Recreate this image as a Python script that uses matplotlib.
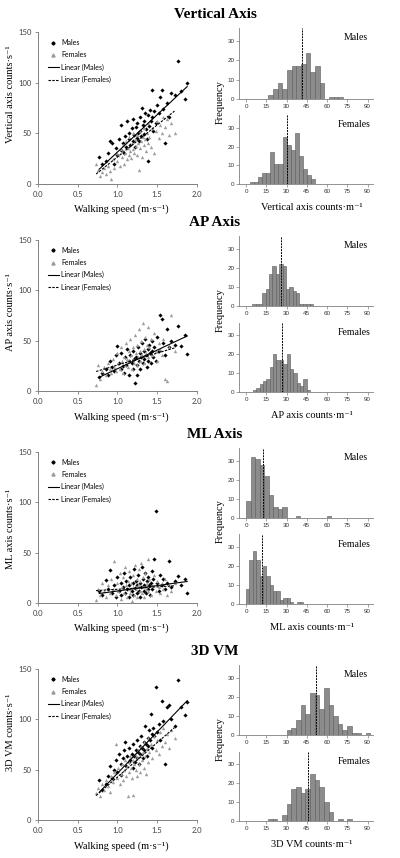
import matplotlib
matplotlib.use("Agg")
import matplotlib.pyplot as plt
from matplotlib.lines import Line2D

plt.rcParams['font.family'] = ['Liberation Serif', 'DejaVu Serif']

# walking speed (m/s) of each subject, the same subjects in all four panels
speed_m = [0.77, 0.80, 0.86, 0.88, 0.90, 0.93, 0.95, 0.98, 1.00, 1.02, 1.04, 1.05, 1.07, 1.08, 1.10, 1.11,
           1.12, 1.14, 1.15, 1.16, 1.18, 1.19, 1.20, 1.21, 1.22, 1.23, 1.24, 1.25, 1.26, 1.27, 1.28, 1.29,
           1.30, 1.31, 1.32, 1.33, 1.34, 1.35, 1.36, 1.37, 1.38, 1.39, 1.40, 1.41, 1.42, 1.43, 1.44, 1.45,
           1.46, 1.48, 1.50, 1.52, 1.54, 1.56, 1.58, 1.60, 1.62, 1.65, 1.68, 1.72, 1.77, 1.80, 1.85, 1.88]
speed_f = [0.73, 0.76, 0.78, 0.80, 0.83, 0.85, 0.88, 0.90, 0.92, 0.94, 0.96, 0.98, 1.00, 1.01, 1.03, 1.04,
           1.06, 1.07, 1.08, 1.10, 1.11, 1.12, 1.13, 1.14, 1.15, 1.16, 1.17, 1.18, 1.19, 1.20, 1.21, 1.22,
           1.23, 1.24, 1.25, 1.26, 1.27, 1.28, 1.29, 1.30, 1.31, 1.32, 1.33, 1.34, 1.35, 1.36, 1.37, 1.38,
           1.39, 1.40, 1.42, 1.44, 1.46, 1.48, 1.50, 1.52, 1.54, 1.56, 1.58, 1.60, 1.62, 1.65, 1.68, 1.72]

# counts per second
vert_m = [26, 20, 22, 30, 42, 40, 20, 35, 28, 44, 33, 58, 40, 30, 47, 36, 62, 44, 50, 38, 55, 42, 64, 48,
          36, 56, 45, 60, 50, 42, 66, 52, 47, 75, 58, 49, 62, 70, 54, 44, 22, 68, 57, 73, 62, 93, 66, 52,
          72, 60, 78, 70, 86, 93, 74, 40, 80, 66, 90, 88, 122, 92, 84, 100]
vert_f = [20, 14, 8, 12, 16, 10, 18, 13, 5, 24, 16, 30, 22, 28, 18, 34, 26, 38, 20, 30, 42, 24, 35, 28,
          46, 32, 25, 40, 34, 50, 30, 44, 37, 28, 48, 40, 14, 35, 52, 42, 26, 46, 38, 55, 44, 32, 50, 40,
          60, 46, 36, 55, 30, 52, 62, 45, 58, 50, 66, 56, 64, 48, 60, 50]
ap_m = [14, 18, 22, 16, 30, 24, 20, 36, 45, 28, 22, 38, 25, 18, 34, 26, 42, 30, 16, 36, 28, 22, 40, 32,
        8, 34, 26, 16, 44, 30, 38, 22, 34, 48, 28, 40, 32, 52, 36, 24, 42, 30, 46, 38, 28, 50, 40, 34,
        44, 30, 54, 40, 76, 72, 48, 36, 62, 44, 50, 46, 65, 45, 56, 37]
ap_f = [6, 26, 12, 20, 24, 16, 28, 22, 18, 32, 24, 20, 38, 28, 22, 44, 30, 18, 34, 26, 48, 32, 24, 40,
        30, 52, 36, 22, 44, 32, 28, 56, 38, 26, 46, 34, 62, 40, 30, 50, 36, 68, 42, 28, 54, 38, 46, 64,
        34, 44, 52, 36, 58, 40, 30, 48, 42, 36, 52, 12, 10, 44, 76, 40]
ml_m = [12, 8, 23, 14, 33, 10, 18, 6, 26, 12, 20, 8, 16, 30, 10, 22, 14, 6, 18, 26, 12, 20, 8, 34,
        15, 22, 10, 18, 28, 12, 20, 6, 16, 36, 24, 12, 18, 30, 10, 22, 14, 26, 18, 8, 20, 32, 14, 24,
        44, 91, 20, 12, 28, 18, 24, 14, 20, 42, 16, 22, 27, 18, 24, 10]
ml_f = [3, 14, 8, 20, 12, 6, 18, 10, 24, 14, 42, 8, 20, 12, 30, 4, 16, 26, 10, 36, 18, 6, 22, 14,
        32, 10, 20, 2, 28, 16, 8, 38, 14, 24, 6, 18, 34, 12, 22, 40, 10, 26, 16, 6, 30, 14, 20, 44,
        12, 24, 8, 18, 28, 12, 22, 16, 10, 20, 14, 24, 8, 18, 12, 20]
vm_m = [40, 30, 36, 44, 54, 42, 50, 60, 48, 66, 56, 45, 62, 70, 78, 54, 64, 58, 72, 60, 66, 52, 76, 64,
        58, 70, 62, 80, 68, 56, 74, 66, 84, 72, 62, 78, 70, 94, 76, 64, 82, 74, 90, 80, 105, 86, 72, 92,
        84, 132, 88, 96, 80, 118, 98, 56, 112, 114, 100, 94, 139, 112, 104, 117]
vm_f = [27, 32, 24, 36, 30, 40, 34, 28, 44, 38, 48, 76, 42, 52, 36, 46, 56, 40, 50, 60, 44, 54, 24, 58,
        48, 64, 52, 42, 60, 25, 56, 66, 50, 62, 44, 70, 56, 64, 48, 74, 60, 68, 52, 78, 64, 46, 72, 58,
        82, 68, 76, 62, 84, 70, 80, 66, 88, 74, 92, 78, 86, 72, 90, 82]

# linear trendlines (slope, intercept)
vert_fit_m, vert_fit_f = (73.7, -42.3), (63.0, -36.4)
ap_fit_m, ap_fit_f = (36.8, -14.3), (23.6, 2.5)
ml_fit_m, ml_fit_f = (10.7, 1.4), (4.8, 9.0)
vm_fit_m, vm_fit_f = (81.7, -35.0), (68.0, -25.0)

# histograms of counts per metre: (first bin edge, bin width) and frequencies
vert_bins_m, vert_hist_m = (16.5, 3.45), [2, 5, 8, 5, 15, 17, 17, 18, 24, 14, 17, 8, 0, 1, 1, 1]
vert_bins_f, vert_hist_f = (3.0, 3.0), [1, 1, 4, 6, 6, 17, 11, 11, 25, 21, 18, 27, 15, 8, 5, 3]
ap_bins_m, ap_hist_m = (4.5, 2.5), [1, 1, 1, 7, 9, 17, 21, 17, 22, 21, 9, 10, 8, 7, 1, 1, 1, 1]
ap_bins_f, ap_hist_f = (5.0, 2.5), [1, 2, 4, 6, 7, 13, 20, 17, 17, 15, 20, 12, 10, 5, 3, 7, 1]
ml_bins_m, ml_hist_m = (0.0, 3.33), [9, 32, 31, 28, 22, 12, 6, 5, 6, 0, 0, 1, 0, 0, 0, 0, 0, 0, 1]
ml_bins_f, ml_hist_f = (0.0, 2.5), [8, 23, 28, 23, 15, 20, 15, 10, 7, 7, 2, 3, 3, 1, 0, 1, 1]
vm_bins_m, vm_hist_m = (30.0, 3.45), [3, 4, 8, 16, 11, 22, 21, 14, 25, 16, 10, 6, 3, 5, 1, 1, 0, 1]
vm_bins_f, vm_hist_f = (16.25, 3.45), [1, 1, 0, 3, 9, 17, 18, 15, 17, 25, 22, 18, 10, 5, 0, 1, 0, 1]

# group means (dashed lines)
vert_mean_m, vert_mean_f = 41.5, 30.5
ap_mean_m, ap_mean_f = 25.7, 26.3
ml_mean_m, ml_mean_f = 12.2, 12.0
vm_mean_m, vm_mean_f = 52.0, 46.2

titles = ["Vertical Axis", "AP Axis", "ML Axis", "3D VM"]
names = ["Vertical axis", "AP axis", "ML axis", "3D VM"]

panels = [
    (vert_m, vert_f, vert_fit_m, vert_fit_f, vert_bins_m, vert_hist_m, vert_bins_f, vert_hist_f, vert_mean_m, vert_mean_f),
    (ap_m, ap_f, ap_fit_m, ap_fit_f, ap_bins_m, ap_hist_m, ap_bins_f, ap_hist_f, ap_mean_m, ap_mean_f),
    (ml_m, ml_f, ml_fit_m, ml_fit_f, ml_bins_m, ml_hist_m, ml_bins_f, ml_hist_f, ml_mean_m, ml_mean_f),
    (vm_m, vm_f, vm_fit_m, vm_fit_f, vm_bins_m, vm_hist_m, vm_bins_f, vm_hist_f, vm_mean_m, vm_mean_f),
]

# layout, in pixels from the top left
W, H = 400, 858
offsets = [0, 207.7, 419.5, 636.7]
ylabel_y = [94, 104, 109, 96]


def rect(l, t, r, b):
    return [l / W, 1 - b / H, (r - l) / W, (b - t) / H]


def fx(x):
    return x / W


def fy(y):
    return 1 - y / H


fig = plt.figure(figsize=(4.0, 8.58), dpi=100)

male_c = 'black'
female_c = '#9c9c9c'
spine_c = '#808080'

for i, p in enumerate(panels):
    ym, yf, fit_m, fit_f, bins_m, hist_m, bins_f, hist_f, mean_m, mean_f = p
    off = offsets[i]

    fig.text(fx(215), fy(15 + off), titles[i], ha='center', va='center',
             fontsize=11, fontweight='bold')

    # scatter with trendlines
    ax = fig.add_axes(rect(38.3, 32.3 + off, 196.7, 183.7 + off))
    ax.scatter(speed_m, ym, s=4.5, marker='D', color=male_c, linewidths=0, zorder=2)
    ax.scatter(speed_f, yf, s=6, marker='^', color=female_c, linewidths=0, zorder=2)
    xm = [min(speed_m), max(speed_m)]
    xf = [min(speed_f), max(speed_f)]
    ax.plot(xm, [fit_m[0] * x + fit_m[1] for x in xm], color='black', lw=0.8, zorder=3)
    ax.plot(xf, [fit_f[0] * x + fit_f[1] for x in xf], color='black', lw=0.8,
            ls=(0, (2.2, 1.2)), zorder=3)
    ax.set_xlim(0, 2.0)
    ax.set_ylim(0, 150)
    ax.set_xticks([0, 0.5, 1.0, 1.5, 2.0])
    ax.set_xticklabels(['0.0', '0.5', '1.0', '1.5', '2.0'])
    ax.set_yticks([0, 50, 100, 150])
    for s in ['top', 'right']:
        ax.spines[s].set_visible(False)
    for s in ['left', 'bottom']:
        ax.spines[s].set_color(spine_c)
        ax.spines[s].set_linewidth(0.7)
    ax.tick_params(length=2.5, width=0.6, color=spine_c, labelsize=5.5, labelcolor='#404040', pad=2.5)
    for lab in ax.get_xticklabels() + ax.get_yticklabels():
        lab.set_family('Lato')
    handles = [Line2D([], [], marker='D', ls='', color=male_c, ms=1.6),
               Line2D([], [], marker='^', ls='', color=female_c, ms=2.2),
               Line2D([], [], color='black', lw=0.8),
               Line2D([], [], color='black', lw=0.8, ls=(0, (2.2, 1.2)))]
    ax.legend(handles, ['Males', 'Females', 'Linear (Males)', 'Linear (Females)'],
              loc='upper left', bbox_to_anchor=(0.06, 0.955), frameon=False,
              prop={'family': 'Lato', 'size': 5}, handlelength=1.6, handletextpad=0.3,
              labelspacing=0.75, borderaxespad=0, borderpad=0, numpoints=1)
    fig.text(fx(121), fy(209 + off), 'Walking speed (m·s⁻¹)', ha='center', va='center', fontsize=7.5)
    fig.text(fx(10.5), fy(ylabel_y[i] + off), names[i] + ' counts·s⁻¹', ha='center', va='center',
             rotation=90, fontsize=7.5)

    # histograms
    for j, (bins, counts, mean, top, bottom, label) in enumerate([
            (bins_m, hist_m, mean_m, 28.3, 98.7, 'Males'),
            (bins_f, hist_f, mean_f, 114.9, 184.3, 'Females')]):
        axh = fig.add_axes(rect(239.3, top + off, 373, bottom + off))
        edges = [bins[0] + k * bins[1] for k in range(len(counts))]
        axh.bar(edges, counts, width=bins[1], align='edge', color='#8c8c8c',
                edgecolor='#5a5a5a', linewidth=0.4, zorder=2)
        axh.axvline(mean, color='black', lw=0.7, ls=(0, (2, 1)), zorder=3)
        axh.set_xlim(-5, 94)
        axh.set_ylim(0, 36.8)
        axh.set_xticks(range(0, 91, 15))
        axh.set_yticks([0, 10, 20, 30])
        for s in ['top', 'right']:
            axh.spines[s].set_visible(False)
        for s in ['left', 'bottom']:
            axh.spines[s].set_color(spine_c)
            axh.spines[s].set_linewidth(0.6)
        axh.tick_params(length=2, width=0.5, color=spine_c, labelsize=4.5, labelcolor='#333333', pad=1.5)
        for lab in axh.get_xticklabels() + axh.get_yticklabels():
            lab.set_family('Liberation Sans')
        axh.text(0.963 if j == 0 else 0.985, 0.865 if j == 0 else 0.855, label,
                 transform=axh.transAxes, ha='right', va='center', fontsize=7)

    fig.text(fx(220.7), fy(102 + off), 'Frequency', ha='center', va='center', rotation=90, fontsize=7.5)
    fig.text(fx(312), fy(208 + off), names[i] + ' counts·m⁻¹', ha='center', va='center', fontsize=7.5)

fig.savefig('out.png', dpi=100)
